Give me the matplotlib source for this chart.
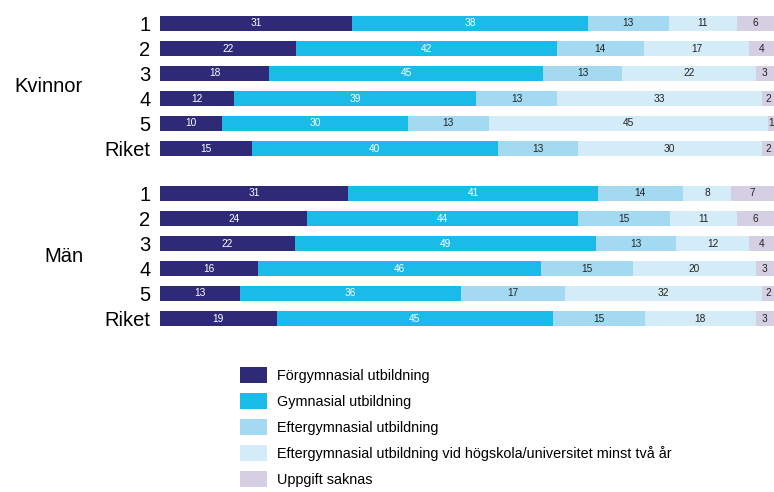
import numpy as np
import matplotlib
matplotlib.use("Agg")
import matplotlib.pyplot as plt
from matplotlib import transforms

plt.rcParams['font.family'] = ['Liberation Sans', 'DejaVu Sans']

groups = ["Kvinnor", "Män"]
row_labels = ["1", "2", "3", "4", "5", "Riket"]
categories = [
    "Förgymnasial utbildning",
    "Gymnasial utbildning",
    "Eftergymnasial utbildning",
    "Eftergymnasial utbildning vid högskola/universitet minst två år",
    "Uppgift saknas",
]
kvinnor = [
    [31, 38, 13, 11, 6],
    [22, 42, 14, 17, 4],
    [18, 45, 13, 22, 3],
    [12, 39, 13, 33, 2],
    [10, 30, 13, 45, 1],
    [15, 40, 13, 30, 2],
]
man = [
    [31, 41, 14, 8, 7],
    [24, 44, 15, 11, 6],
    [22, 49, 13, 12, 4],
    [16, 46, 15, 20, 3],
    [13, 36, 17, 32, 2],
    [19, 45, 15, 18, 3],
]

colors = ["#2f2a77", "#1bbbe9", "#a3daf2", "#d4ebf8", "#d4cfe2"]
text_colors = ["white", "white", "#222222", "#222222", "#222222"]

vals = np.array(kvinnor + man, dtype=float)
pct = vals / vals.sum(axis=1, keepdims=True) * 100
gap = 1.8
ypos = np.concatenate([np.arange(6), np.arange(6) + 5 + gap])

W, H = 774, 492
fig = plt.figure(figsize=(W / 100, H / 100), dpi=100)
ax = fig.add_axes([160 / W, 1 - 340 / H, 1 - 160 / W, 340 / H])

left = np.zeros(len(ypos))
handles = []
for j, cat in enumerate(categories):
    bars = ax.barh(ypos, pct[:, j], left=left, height=0.6, color=colors[j],
                   linewidth=0, label=cat)
    handles.append(bars)
    for i in range(len(ypos)):
        ax.text(left[i] + pct[i, j] / 2, ypos[i], f"{int(vals[i, j])}",
                ha="center", va="center", fontsize=7.3, color=text_colors[j])
    left += pct[:, j]

ax.set_xlim(0, 100)
ax.set_ylim(12.66, -0.94)
ax.set_yticks(ypos)
ax.set_yticklabels(row_labels * 2, fontsize=14.5)
ax.tick_params(axis="y", length=0, pad=7)
ax.set_xticks([])
for s in ax.spines.values():
    s.set_visible(False)

trans = transforms.blended_transform_factory(fig.transFigure, ax.transData)
for g, yc in zip(groups, [2.5, 5 + gap + 2.5]):
    ax.text(83 / W, yc, g, transform=trans, ha="right", va="center", fontsize=14.5)

fig.legend(handles=handles, labels=categories, loc="upper left",
           bbox_to_anchor=(240 / W, 1 - 367 / H), frameon=False,
           fontsize=10.4, handlelength=1.85, handleheight=1.35,
           labelspacing=0.68, handletextpad=0.7, borderpad=0, borderaxespad=0)

fig.savefig("out.png", dpi=100)
